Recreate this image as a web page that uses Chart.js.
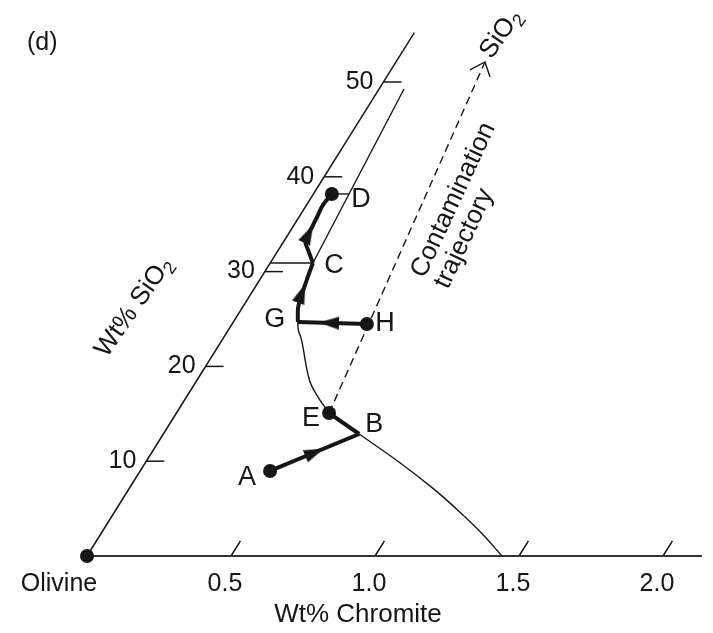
<!DOCTYPE html>
<html>
<head>
<meta charset="utf-8">
<title>Olivine - Chromite - SiO2</title>
<script src="https://cdn.jsdelivr.net/npm/chart.js@4.4.1/dist/chart.umd.min.js"></script>
<style>
  html, body { margin: 0; padding: 0; background: #fff; overflow: hidden; }
  #wrap { width: 713px; height: 633px; }
</style>
</head>
<body>
<div id="wrap"><canvas id="chart"></canvas></div>
<script>
// every point below is [wt% chromite, wt% SiO2]
var chromiteTicks = [0.5, 1.0, 1.5, 2.0];
var silicaTicks = [10, 20, 30, 40, 50];
var chromiteAxisEnd = 2.135;
var silicaAxisEnd = 55.2;

var pointNames    = ['A',   'B',   'C',   'D',   'E',   'G',   'H'];
var pointChromite = [0.451, 0.680, 0.148, 0.064, 0.530, 0.224, 0.468];
var pointSilica   = [8.97,  12.87, 30.91, 38.19, 15.08, 24.68, 24.47];
var dotNames = ['A', 'D', 'E', 'H'];
var olivine = [0, 0];

// thin curves (cotectic) and helper lines
var cotecticLow  = [[0.680, 12.87], [0.884, 9.84], [1.0545, 7.13], [1.200, 4.62], [1.329, 2.25], [1.441, 0]];
var cotecticHigh = [[0.530, 15.08], [0.457, 16.77], [0.390, 18.57], [0.276, 22.78], [0.243, 23.84], [0.224, 24.68]];
var innerLine = [[0.148, 30.91], [0.0865, 49.26]];
var tieC = [[0, 30.91], [0.148, 30.91]];
var tieD = [[0.064, 38.19], [0.124, 38.19]];
var trajectory = [[0.530, 15.08], [0.309, 52.11]];
var trajectoryHead = [[0.274, 51.27], [0.309, 52.11], [0.359, 50.53]];

// thick crystallisation paths
var pathAB = [[0.451, 8.97], [0.680, 12.87]];
var pathEB = [[0.530, 15.08], [0.680, 12.87]];
var pathHG = [[0.468, 24.47], [0.224, 24.68]];
var pathGC = [[0.224, 24.68], [0.192, 26.30], [0.1635, 29.11], [0.148, 30.91]];
var pathCD = [[0.148, 30.91], [0.103, 32.28], [0.0745, 33.23], [0.067, 34.70], [0.0625, 35.76], [0.057, 37.03], [0.064, 38.19]];

// arrow heads: where they sit and which way they point
var arrowAt = [[0.5655, 10.92], [0.334, 24.59], [0.175, 27.71], [0.070, 33.97]];
var arrowTo = [[0.680, 12.87], [0.224, 24.68], [0.1635, 29.11], [0.067, 34.70]];

// ---- drawing ----
var INK = '#161616';
var FONT = '"Liberation Sans", Arial, sans-serif';
var SKEW = 5.93 / 288; // lean of the SiO2 axis (chromite units per wt% SiO2)

function xy(p) { return { x: p[0] + SKEW * p[1], y: p[1] }; }
function named(n) { var i = pointNames.indexOf(n); return [pointChromite[i], pointSilica[i]]; }
function px(chart, p) {
  return { x: chart.scales.x.getPixelForValue(p[0] + SKEW * p[1]), y: chart.scales.y.getPixelForValue(p[1]) };
}
function lineSet(points, width, extra) {
  return Object.assign({
    data: points.map(xy), showLine: true, borderColor: INK, borderWidth: width,
    pointRadius: 0, tension: 0, fill: false
  }, extra || {});
}

var arrowImg = document.createElement('canvas');
arrowImg.width = 13; arrowImg.height = 20;
(function () {
  var g = arrowImg.getContext('2d');
  g.fillStyle = INK;
  g.beginPath(); g.moveTo(6.5, 0); g.lineTo(13, 20); g.lineTo(0, 20); g.closePath(); g.fill();
})();

var datasets = [];
datasets.push({ data: dotNames.map(named).concat([olivine]).map(xy), pointRadius: 7, backgroundColor: INK, borderWidth: 0, showLine: false });
datasets.push({
  data: arrowAt.map(xy), showLine: false, pointRadius: 10, pointStyle: arrowImg,
  pointRotation: function (c) {
    var i = c.dataIndex;
    if (i === undefined || !c.chart.scales.x) return 0;
    var a = px(c.chart, arrowAt[i]), b = px(c.chart, arrowTo[i]);
    return Math.atan2(b.x - a.x, a.y - b.y) * 180 / Math.PI;
  }
});
datasets.push(lineSet(pathAB, 4));
datasets.push(lineSet(pathEB, 4));
datasets.push(lineSet(pathHG, 4));
datasets.push(lineSet(pathGC, 4, { tension: 0.25 }));
datasets.push(lineSet(pathCD, 4, { tension: 0.4 }));
datasets.push(lineSet(cotecticLow, 1.4, { tension: 0.4 }));
datasets.push(lineSet(cotecticHigh, 1.4, { tension: 0.4 }));
datasets.push(lineSet(innerLine, 1.4));
datasets.push(lineSet(tieC, 1.4));
datasets.push(lineSet(tieD, 1.4));
datasets.push(lineSet(trajectory, 1.4, { borderDash: [8, 5] }));
datasets.push(lineSet(trajectoryHead, 1.4));
datasets.push(lineSet([olivine, [chromiteAxisEnd, 0]], 2, { borderColor: '#333' }));
datasets.push(lineSet([olivine, [0, silicaAxisEnd]], 1.5));
silicaTicks.forEach(function (s) { datasets.push(lineSet([[0, s], [0.0625, s]], 1.5)); });
chromiteTicks.forEach(function (c) { datasets.push(lineSet([[c, 0], [c, 1.6]], 1.5)); });

var letterOffset = { A: [-23, 7], B: [15, -9], C: [21, 3], D: [29, 6], E: [-18, 6], G: [-23, -2], H: [18, 0] };

function subText(ctx, main, sub, x, y, size, deg, align) {
  ctx.save();
  ctx.translate(x, y);
  ctx.rotate(deg * Math.PI / 180);
  ctx.font = size + 'px ' + FONT;
  var w1 = ctx.measureText(main).width;
  ctx.font = Math.round(size * 0.68) + 'px ' + FONT;
  var w2 = ctx.measureText(sub).width;
  var x0 = align === 'left' ? 0 : -(w1 + w2) / 2;
  ctx.textAlign = 'left';
  ctx.textBaseline = 'middle';
  ctx.font = size + 'px ' + FONT;
  ctx.fillText(main, x0, 0);
  ctx.font = Math.round(size * 0.68) + 'px ' + FONT;
  ctx.fillText(sub, x0 + w1, size * 0.3);
  ctx.restore();
}

var labelPlugin = {
  id: 'labels',
  afterDatasetsDraw: function (chart) {
    var ctx = chart.ctx;
    ctx.save();
    ctx.fillStyle = INK;

    ctx.font = '25px ' + FONT;
    ctx.textAlign = 'left'; ctx.textBaseline = 'alphabetic';
    ctx.fillText('(d)', 27, 50);

    // chromite axis
    ctx.font = '25px ' + FONT;
    ctx.textAlign = 'center';
    chromiteTicks.forEach(function (c) {
      var p = px(chart, [c, 0]);
      ctx.fillText(c.toFixed(1), p.x - 6, p.y + 35);
    });
    var o = px(chart, olivine);
    ctx.fillText('Olivine', o.x - 28, o.y + 35);
    ctx.font = '26px ' + FONT;
    ctx.fillText('Wt% Chromite', 358, 622);

    // SiO2 axis
    ctx.font = '25px ' + FONT;
    ctx.textAlign = 'right'; ctx.textBaseline = 'middle';
    silicaTicks.forEach(function (s) {
      var p = px(chart, [0, s]);
      ctx.fillText(String(s), p.x - 10, p.y);
    });
    subText(ctx, 'Wt% SiO', '2', 134, 307, 26, -55);
    subText(ctx, 'SiO', '2', 501, 34, 26, -55);

    // contamination label
    ctx.save();
    ctx.translate(418, 276);
    ctx.rotate(-65 * Math.PI / 180);
    ctx.font = '26px ' + FONT;
    ctx.textAlign = 'left'; ctx.textBaseline = 'middle';
    ctx.fillText('Contamination', 0, 0);
    ctx.fillText('trajectory', 0, 26);
    ctx.restore();

    // point letters
    ctx.font = '27px ' + FONT;
    ctx.textAlign = 'center'; ctx.textBaseline = 'middle';
    pointNames.forEach(function (n) {
      var p = px(chart, named(n));
      var d = letterOffset[n];
      ctx.fillText(n, p.x + d[0], p.y + d[1]);
    });
    ctx.restore();
  }
};

new Chart(document.getElementById('chart'), {
  type: 'scatter',
  data: { datasets: datasets },
  options: {
    responsive: true,
    maintainAspectRatio: false,
    animation: false,
    events: [],
    layout: { padding: 0, autoPadding: false },
    plugins: { legend: { display: false }, tooltip: { enabled: false }, title: { display: false } },
    scales: {
      x: { type: 'linear', display: false, min: -87 / 288, max: 626 / 288 },
      y: { type: 'linear', display: false, min: -77 / 9.48, max: 556 / 9.48 }
    }
  },
  plugins: [labelPlugin]
});
</script>
</body>
</html>
